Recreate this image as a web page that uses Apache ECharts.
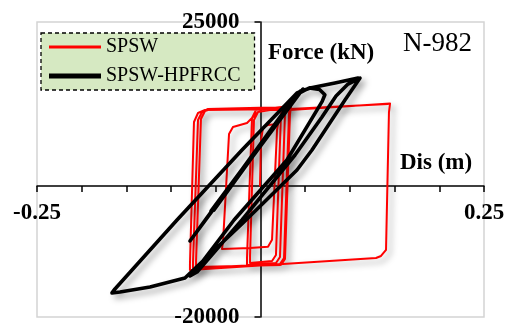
<!DOCTYPE html>
<html>
<head>
<meta charset="utf-8">
<script src="https://cdn.jsdelivr.net/npm/echarts@6/dist/echarts.min.js"></script>
<style>
html,body{margin:0;padding:0;background:#fff;}
#c{width:505px;height:329px;}
</style>
</head>
<body>
<div id="c"></div>
<script>
// Displacement (m) and force (kN)
const spswDis = [-0.0006,0.0006,0.0028,0.0084,0.0196,0.0185,0.0129,0.0084,-0.0117,-0.0431,-0.0419,-0.0352,-0.0308,-0.0229,-0.0151,-0.0095,-0.0028,0.0240,0.0229,0.0173,0.0129,-0.0117,-0.0117,-0.0073,-0.0028,0.0285,0.0274,0.0218,0.0173,-0.0151,-0.0151,-0.0095,-0.0050,0.0330,0.0319,0.0263,0.0218,-0.0755,-0.0755,-0.0699,-0.0654,-0.0587,0.0341,0.0330,0.0274,0.0229,-0.0721,-0.0721,-0.0666,-0.0621,-0.0554,0.0330,0.1449,0.1437,0.1404,0.1348,0.1292,-0.0789,-0.0789,-0.0744,-0.0699,-0.0621,0.0330,0.1426];
const spswForce = [0,7000,8830,9290,9440,8525,-8235,-9300,-9470,-9620,-8540,7915,8985,9290,9590,10355,11270,11880,10810,-10540,-11450,-11760,-10690,10050,11270,12030,10965,-10840,-11760,-12060,-11000,10355,11575,12180,11120,-11000,-11910,-12520,-11605,10050,11270,11730,12030,10965,-11150,-12060,-12370,-11450,10200,11420,11730,11575,12566,11270,-9770,-10690,-11000,-12830,-11910,9745,11120,11575,11730,12490];

const hpfrccDis = [-0.0330,0.0419,-0.0520,0.0445,-0.0554,0.0475,-0.0789,0.0397,0.0543,0.0660,0.0720,0.0690,0.0296,-0.0296,-0.0677,-0.0789,-0.0710,-0.0207,0.0386,0.0688,0.0845,0.0979,0.1113,0.1135,0.0945,0.0576,0.0408,-0.0162,-0.0845,-0.1236,-0.1572,-0.1661,-0.1628,-0.0934,-0.0207,0.0408,0.0554,0.0833,0.1091];
const hpfrccForce = [0,14165,-3675,14470,-3830,14775,-8400,13860,14930,14700,13900,12900,3950,-5200,-12060,-13740,-13130,-5200,4710,10505,13710,15540,16455,16150,13100,5475,2425,-5200,-14045,-15420,-16180,-16330,-15720,-5200,5475,14165,14930,15690,16455];

const seriesNames = ['SPSW','SPSW-HPFRCC'];
const xTickLabels = ['-0.25','0.25'];
const yRange = [-20000, 25000];
const xRange = [-0.25, 0.25];

const zip = (a,b) => a.map((v,i) => [v, b[i]]);
const serif = "'Liberation Serif','Times New Roman',Times,serif";

const W = 505, H = 329;
const G = {left:37, right:21, top:22, bottom:12};
const gw = W - G.left - G.right, gh = H - G.top - G.bottom;
// place axes through the origin
const xOff = -(gh * (0 - yRange[0]) / (yRange[1] - yRange[0]));
const yOff = -(gw * (0 - xRange[0]) / (xRange[1] - xRange[0]));

const chart = echarts.init(document.getElementById('c'), null, {renderer:'canvas'});
chart.setOption({
  animation:false,
  backgroundColor:'#fff',
  grid:{left:G.left,right:G.right,top:G.top,bottom:G.bottom,containLabel:false,outerBoundsMode:'none',show:true,borderColor:'#d4d4d4',borderWidth:1.5,backgroundColor:'transparent'},
  legend:{
    orient:'vertical',left:41,top:33,
    padding:[4,14,4,8],itemGap:9,itemWidth:52,itemHeight:20,
    backgroundColor:'#d6e9c2',borderColor:'#000',borderWidth:1.3,borderType:[4,3],
    textStyle:{fontFamily:serif,fontSize:20,color:'#000'},
    data:[
      {name:seriesNames[0],icon:'path://M0,0 L52,0 L52,3 L0,3 Z',itemStyle:{color:'#ff0000'}},
      {name:seriesNames[1],icon:'path://M0,0 L52,0 L52,5 L0,5 Z',itemStyle:{color:'#000'}}
    ]
  },
  xAxis:{
    type:'value',min:xRange[0],max:xRange[1],interval:0.05,position:'bottom',offset:xOff,
    axisLine:{onZero:false,lineStyle:{color:'#000',width:1.5}},
    axisTick:{show:true,length:6,lineStyle:{color:'#000',width:1.5}},
    splitLine:{show:false},
    axisLabel:{show:true,margin:16,showMinLabel:true,showMaxLabel:true,hideOverlap:false,
      fontFamily:serif,fontSize:23,fontWeight:'bold',color:'#000',
      formatter:v=>{const s=(Math.round(v*100)/100).toFixed(2);return xTickLabels.includes(s)?s:'';}}
  },
  yAxis:{
    type:'value',min:yRange[0],max:yRange[1],interval:45000,position:'left',offset:yOff,
    axisLine:{onZero:false,lineStyle:{color:'#000',width:1.5}},
    axisTick:{show:true,length:6,lineStyle:{color:'#000',width:1.5}},
    splitLine:{show:false},
    axisLabel:{margin:21,fontFamily:serif,fontSize:23,fontWeight:'bold',color:'#000',formatter:v=>String(v)}
  },
  series:[
    {name:seriesNames[0],type:'line',symbol:'none',data:zip(spswDis,spswForce),
     lineStyle:{color:'#ff0000',width:2,join:'round',cap:'round',shadowColor:'rgba(0,0,0,0.35)',shadowBlur:6,shadowOffsetX:4,shadowOffsetY:4},
     itemStyle:{color:'#ff0000'},z:2},
    {name:seriesNames[1],type:'line',symbol:'none',data:zip(hpfrccDis,hpfrccForce),
     lineStyle:{color:'#000',width:3.6,join:'round',cap:'round',shadowColor:'rgba(0,0,0,0.35)',shadowBlur:6,shadowOffsetX:4,shadowOffsetY:4},
     itemStyle:{color:'#000'},z:3}
  ],
  graphic:[
    {type:'text',left:268,top:42,style:{text:'Force (kN)',fontFamily:serif,fontSize:23,fontWeight:'bold',fill:'#000'}},
    {type:'text',left:403,top:30,style:{text:'N-982',fontFamily:serif,fontSize:27,fill:'#000'}},
    {type:'text',left:400,top:152,style:{text:'Dis (m)',fontFamily:serif,fontSize:23,fontWeight:'bold',fill:'#000'}}
  ]
});
</script>
</body>
</html>
